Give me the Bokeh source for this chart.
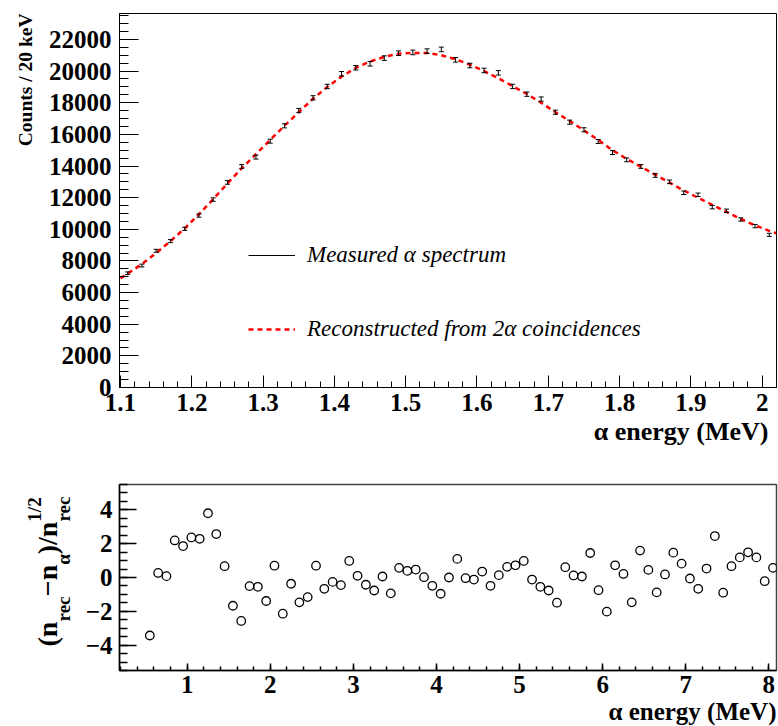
import math
from bokeh.plotting import figure
from bokeh.models import (ColumnDataSource, FixedTicker, CustomJSTickFormatter, Label,
                          Legend, LegendItem, Range1d, Title)
from bokeh.layouts import column, row
from bokeh.embed import file_html
from bokeh.resources import INLINE

# ---------------- data: top panel ----------------
energy_top = [1.11, 1.13, 1.15, 1.17, 1.19, 1.21, 1.23, 1.25, 1.27, 1.29,
              1.31, 1.33, 1.35, 1.37, 1.39, 1.41, 1.43, 1.45, 1.47, 1.49,
              1.51, 1.53, 1.55, 1.57, 1.59, 1.61, 1.63, 1.65, 1.67, 1.69,
              1.71, 1.73, 1.75, 1.77, 1.79, 1.81, 1.83, 1.85, 1.87, 1.89,
              1.91, 1.93, 1.95, 1.97, 1.99, 2.01]
measured_counts = [7220, 7710, 8640, 9250, 10030, 10870, 11880, 12960, 13970, 14560,
                   15570, 16540, 17510, 18310, 19030, 19830, 20210, 20460, 20820, 21130,
                   21180, 21260, 21370, 20710, 20350, 20040, 19890, 19030, 18540, 18230,
                   17400, 16770, 16290, 15550, 14850, 14390, 13970, 13400, 13000, 12310,
                   12180, 11400, 11170, 10620, 10200, 9650]
measured_err = [85, 88, 93, 96, 100, 104, 109, 114, 118, 121,
                125, 129, 132, 135, 138, 141, 142, 143, 144, 145,
                146, 146, 146, 144, 143, 142, 141, 138, 136, 135,
                132, 129, 128, 125, 122, 120, 118, 116, 114, 111,
                110, 107, 106, 103, 101, 98]
rec_energy = [1.10, 1.11, 1.13, 1.15, 1.17, 1.19, 1.21, 1.23, 1.25, 1.27, 1.29,
              1.31, 1.33, 1.35, 1.37, 1.39, 1.41, 1.43, 1.45, 1.47, 1.49,
              1.51, 1.53, 1.55, 1.57, 1.59, 1.61, 1.63, 1.65, 1.67, 1.69,
              1.71, 1.73, 1.75, 1.77, 1.79, 1.81, 1.83, 1.85, 1.87, 1.89,
              1.91, 1.93, 1.95, 1.97, 1.99, 2.01, 2.02]
rec_counts = [6900, 7200, 7800, 8500, 9250, 10050, 10950, 11900, 12900, 13850, 14750,
              15650, 16550, 17400, 18250, 19000, 19650, 20200, 20600, 20900, 21100,
              21150, 21150, 21000, 20750, 20400, 20000, 19550, 19050, 18550, 18000,
              17400, 16850, 16250, 15650, 15000, 14450, 13950, 13450, 12950, 12450,
              12000, 11550, 11100, 10650, 10250, 9900, 9750]
x_ticks_top = [1.1, 1.2, 1.3, 1.4, 1.5, 1.6, 1.7, 1.8, 1.9, 2.0]
x_labels_top = ["1.1", "1.2", "1.3", "1.4", "1.5", "1.6", "1.7", "1.8", "1.9", "2"]
y_ticks_top = [0, 2000, 4000, 6000, 8000, 10000, 12000, 14000, 16000, 18000, 20000, 22000]
y_labels_top = ["0", "2000", "4000", "6000", "8000", "10000", "12000", "14000",
                "16000", "18000", "20000", "22000"]

# ---------------- data: bottom panel ----------------
energy_bottom = [0.55, 0.65, 0.75, 0.85, 0.95, 1.05, 1.15, 1.25, 1.35, 1.45,
                 1.55, 1.65, 1.75, 1.85, 1.95, 2.05, 2.15, 2.25, 2.35, 2.45,
                 2.55, 2.65, 2.75, 2.85, 2.95, 3.05, 3.15, 3.25, 3.35, 3.45,
                 3.55, 3.65, 3.75, 3.85, 3.95, 4.05, 4.15, 4.25, 4.35, 4.45,
                 4.55, 4.65, 4.75, 4.85, 4.95, 5.05, 5.15, 5.25, 5.35, 5.45,
                 5.55, 5.65, 5.75, 5.85, 5.95, 6.05, 6.15, 6.25, 6.35, 6.45,
                 6.55, 6.65, 6.75, 6.85, 6.95, 7.05, 7.15, 7.25, 7.35, 7.45,
                 7.55, 7.65, 7.75, 7.85, 7.95, 8.05]
residual = [-3.43, 0.27, 0.08, 2.19, 1.86, 2.37, 2.29, 3.80, 2.57, 0.67,
            -1.67, -2.57, -0.51, -0.55, -1.39, 0.70, -2.14, -0.37, -1.47, -1.16,
            0.70, -0.67, -0.26, -0.45, 0.98, 0.10, -0.43, -0.77, 0.06, -0.94,
            0.57, 0.39, 0.47, 0.02, -0.49, -0.96, 0.00, 1.10, -0.04, -0.12,
            0.35, -0.49, 0.14, 0.63, 0.72, 0.98, -0.12, -0.55, -0.77, -1.49,
            0.61, 0.12, 0.06, 1.45, -0.75, -2.02, 0.72, 0.21, -1.47, 1.59,
            0.45, -0.88, 0.18, 1.47, 0.82, -0.06, -0.67, 0.53, 2.45, -0.90,
            0.67, 1.19, 1.49, 1.19, -0.22, 0.57]
x_ticks_bottom = [1, 2, 3, 4, 5, 6, 7, 8]
x_labels_bottom = ["1", "2", "3", "4", "5", "6", "7", "8"]
y_ticks_bottom = [-4, -2, 0, 2, 4]
y_labels_bottom = ["\u22124", "\u22122", "0", "2", "4"]

FONT = "Liberation Serif"
LEFT, FW, RIGHT = 119, 657, 2

def label_formatter(tick_list, label_list):
    return CustomJSTickFormatter(
        args=dict(tk=tick_list, lb=label_list),
        code="const i = tk.findIndex(t => Math.abs(t - tick) < 1e-6); return i >= 0 ? lb[i] : '';")

def style_axis(ax, ticks, labels, minor, major_len, minor_len, standoff, size="25px", lw=1):
    ax.ticker = FixedTicker(ticks=ticks, minor_ticks=minor)
    ax.formatter = label_formatter(ticks, labels)
    ax.major_tick_in = major_len
    ax.major_tick_out = 0
    ax.minor_tick_in = minor_len
    ax.minor_tick_out = 0
    ax.axis_line_color = "black"
    ax.axis_line_width = lw
    ax.major_tick_line_color = "black"
    ax.minor_tick_line_color = "black"
    ax.major_tick_line_width = lw
    ax.minor_tick_line_width = lw
    ax.major_label_text_font = FONT
    ax.major_label_text_font_style = "bold"
    ax.major_label_text_font_size = size
    ax.major_label_text_color = "black"
    ax.major_label_standoff = standoff

def bold_title(text, size, standoff, offset=0):
    return Title(text=text, align="right", text_font=FONT, text_font_style="bold",
                 text_font_size=size, text_color="black", standoff=standoff, offset=offset)

# ---------------- top panel ----------------
TOP1, FH1, BOT1 = 13, 374, 83
x1r = Range1d(1.0986, 2.0201)
y1r = Range1d(0, 23640)
p1 = figure(frame_width=FW, frame_height=FH1, x_range=x1r, y_range=y1r,
            min_border_left=LEFT, min_border_right=RIGHT, min_border_top=TOP1,
            min_border_bottom=BOT1, output_backend="svg", toolbar_location=None)
p1.xgrid.visible = False
p1.ygrid.visible = False
p1.outline_line_color = "black"
p1.outline_line_width = 1
p1.background_fill_color = "white"
p1.border_fill_color = "white"

minor_x1 = [round(1.10 + 0.02 * i, 2) for i in range(47)]
minor_y1 = [500 * i for i in range(48)]
style_axis(p1.xaxis[0], x_ticks_top, x_labels_top, minor_x1, 12, 6, 6)
style_axis(p1.yaxis[0], y_ticks_top, y_labels_top, minor_y1, 19, 9, 8)

src = ColumnDataSource(dict(
    x=energy_top, y=measured_counts,
    lo=[c - e for c, e in zip(measured_counts, measured_err)],
    hi=[c + e for c, e in zip(measured_counts, measured_err)]))
red_r = p1.line(rec_energy, rec_counts, line_color="red", line_width=2.5, line_dash="5 4")
bar_r = p1.segment(x0="x", y0="lo", x1="x", y1="hi", source=src, line_color="black", line_width=1)
p1.scatter(x="x", y="hi", source=src, marker="dash", size=5, line_color="black", line_width=1)
p1.scatter(x="x", y="lo", source=src, marker="dash", size=5, line_color="black", line_width=1)

legend = Legend(items=[LegendItem(label="Measured \u03b1 spectrum", renderers=[bar_r]),
                       LegendItem(label="Reconstructed from 2\u03b1 coincidences", renderers=[red_r])],
                location=(129, 45), orientation="vertical", glyph_width=47, glyph_height=24,
                label_height=24, spacing=48, padding=0, margin=0, border_line_color=None,
                background_fill_alpha=0, label_text_font=FONT, label_text_font_style="italic",
                label_text_font_size="23px", label_standoff=12, label_text_color="black")
p1.add_layout(legend)

p1.add_layout(bold_title("\u03b1 energy (MeV)", "26px", 3, offset=8), "below")
p1.add_layout(bold_title("Counts / 20 keV", "19.5px", 19), "left")

# ---------------- bottom panel ----------------
LBL_W = 80
TOP2, FH2, BOT2 = 14, 186, 56
H2 = TOP2 + FH2 + BOT2
x2r = Range1d(0.185, 8.092)
y2r = Range1d(-5.5, 5.5)
p2 = figure(frame_width=FW, frame_height=FH2, x_range=x2r, y_range=y2r,
            min_border_left=LEFT - LBL_W, min_border_right=RIGHT, min_border_top=TOP2,
            min_border_bottom=BOT2, output_backend="svg", toolbar_location=None)
p2.xgrid.visible = False
p2.ygrid.visible = False
p2.outline_line_color = "#444444"
p2.outline_line_width = 1.5
p2.background_fill_color = "white"
p2.border_fill_color = "white"

minor_x2 = [round(0.2 + 0.2 * i, 1) for i in range(40)]
minor_y2 = [-5.5 + 0.5 * i for i in range(23)]
style_axis(p2.xaxis[0], x_ticks_bottom, x_labels_bottom, minor_x2, 7, 4, 5, lw=1.5)
style_axis(p2.yaxis[0], y_ticks_bottom, y_labels_bottom, minor_y2, 17, 8, 7, lw=1.5)

p2.scatter(energy_bottom, residual, marker="circle", size=8.5, fill_color=None,
           line_color="black", line_width=1.3)
p2.add_layout(bold_title("\u03b1 energy (MeV)", "25px", 0), "below")

# left strip holding the rotated y title (n_rec - n_alpha)/n_rec^{1/2}
lf = figure(frame_width=LBL_W, frame_height=H2, x_range=Range1d(0, LBL_W),
            y_range=Range1d(0, H2), min_border=0, min_border_left=0, min_border_right=0,
            min_border_top=0, min_border_bottom=0, x_axis_location=None,
            y_axis_location=None, output_backend="svg", toolbar_location=None)
lf.xgrid.visible = False
lf.ygrid.visible = False
lf.outline_line_color = None
lf.background_fill_color = "white"
lf.border_fill_color = "white"

MAIN, SUB = 28, 19
cx_main, cx_sub, cx_sup = 46.5, 62.5, 33.5
# (text, font px, centre x, length along the reading direction, advance to next piece)
pieces = [("(n", MAIN, cx_main, 0.889 * MAIN, 0.889 * MAIN),
          ("rec", SUB, cx_sub, 1.332 * SUB, 1.332 * SUB),
          ("\u2212n", MAIN, cx_main, 1.126 * MAIN, 1.126 * MAIN),
          ("\u03b1", SUB, cx_sub, 0.55 * SUB, 0.55 * SUB),
          (")/n", MAIN, cx_main, 1.167 * MAIN, 1.167 * MAIN),
          ("rec", SUB, cx_sub, 1.332 * SUB, 0.0),
          ("1/2", SUB, cx_sup, 1.278 * SUB, 0.0)]
ypos = 632.0
for txt, size, cx, w, adv in pieces:
    cy = ypos - w / 2
    lf.add_layout(Label(x=cx, y=H2 - (cy - 470), text=txt, angle=math.pi / 2,
                        text_align="center", text_baseline="middle", text_font=FONT,
                        text_font_style="bold", text_font_size=f"{size}px", text_color="black"))
    ypos -= adv

layout = column(p1, row(lf, p2, spacing=0), spacing=0)
open("out.html", "w").write(file_html(layout, INLINE))
